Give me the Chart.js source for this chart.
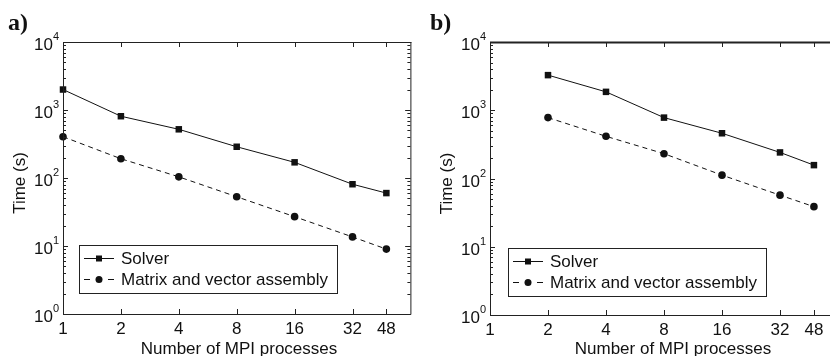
<!DOCTYPE html>
<html>
<head>
<meta charset="utf-8">
<script src="https://cdn.jsdelivr.net/npm/chart.js@4.4.1/dist/chart.umd.min.js"></script>
<style>
  html, body { margin: 0; padding: 0; background: #fff; overflow: hidden; width: 830px; height: 356px; }
  canvas { position: absolute; top: 0; }
</style>
</head>
<body>
<canvas id="chartA" width="415" height="356" style="left:0"></canvas>
<canvas id="chartB" width="430" height="356" style="left:415px"></canvas>
<script>
// data
const processesA = [1, 2, 4, 8, 16, 32, 48];
const solverA = [2000, 810, 520, 288, 170, 81, 60];
const assemblyA = [405, 192, 104, 53, 27, 13.6, 9];

const processesB = [2, 4, 8, 16, 32, 48];
const solverB = [3270, 1860, 780, 460, 241, 157];
const assemblyB = [780, 415, 231, 112, 57, 38.7];

const seriesLabels = ["Solver", "Matrix and vector assembly"];
const xTicks = [1, 2, 4, 8, 16, 32, 48];
const yTicks = [1, 10, 100, 1000, 10000];
const xTitle = "Number of MPI processes";
const yTitle = "Time (s)";

const FONT = "'Liberation Sans', Arial, Helvetica, sans-serif";
const INK = "#111";

function toPoints(xs, ys) {
  return xs.map((x, i) => ({ x: x, y: ys[i] }));
}

// axes box, inside ticks, superscript labels, titles and legend
const decorPlugin = {
  id: "decor",
  afterDraw(chart, args, opts) {
    const ctx = chart.ctx;
    const a = chart.chartArea;
    const xs = chart.scales.x;
    const ys = chart.scales.y;
    ctx.save();
    ctx.strokeStyle = "#222";
    ctx.lineWidth = 1;
    ctx.setLineDash([]);

    // box
    ctx.beginPath();
    ctx.moveTo(a.left + 0.5, a.top);
    ctx.lineTo(a.left + 0.5, a.bottom + 0.5);
    ctx.lineTo(a.right + 0.5, a.bottom + 0.5);
    ctx.lineTo(a.right + 0.5, a.top);
    ctx.stroke();
    ctx.lineWidth = opts.topWidth;
    ctx.beginPath();
    ctx.moveTo(a.left, a.top + 0.5);
    ctx.lineTo(a.right + 1, a.top + 0.5);
    ctx.stroke();
    ctx.lineWidth = 1;

    // x ticks top and bottom
    ctx.beginPath();
    xTicks.forEach(v => {
      const px = Math.round(xs.getPixelForValue(v)) + 0.5;
      ctx.moveTo(px, a.bottom);
      ctx.lineTo(px, a.bottom - 5);
      ctx.moveTo(px, a.top);
      ctx.lineTo(px, a.top + 5);
    });
    // y ticks major + minor, both sides
    for (let k = 0; k < 4; k++) {
      for (let m = 1; m <= 10; m++) {
        const v = m * Math.pow(10, k);
        const py = Math.round(ys.getPixelForValue(v)) + 0.5;
        const len = (m === 1 || m === 10) ? 5 : 3;
        ctx.moveTo(a.left, py);
        ctx.lineTo(a.left + len, py);
        ctx.moveTo(a.right, py);
        ctx.lineTo(a.right - len, py);
      }
    }
    ctx.stroke();

    // y tick labels 10^n
    ctx.fillStyle = INK;
    yTicks.forEach(v => {
      const py = ys.getPixelForValue(v);
      const exp = String(Math.round(Math.log10(v)));
      ctx.font = "17px " + FONT;
      ctx.textAlign = "right";
      ctx.textBaseline = "alphabetic";
      ctx.fillText("10", a.left - 10, py + 8);
      ctx.font = "11px " + FONT;
      ctx.textAlign = "left";
      ctx.fillText(exp, a.left - 10, py - 2);
    });

    // axis titles
    ctx.font = "17px " + FONT;
    ctx.textAlign = "center";
    ctx.textBaseline = "middle";
    ctx.fillText(xTitle, a.left + opts.titleDx, 349);
    ctx.save();
    ctx.translate(a.left - 43, (a.top + a.bottom) / 2 + 5);
    ctx.rotate(-Math.PI / 2);
    ctx.fillText(yTitle, 0, 0);
    ctx.restore();

    // panel letter
    ctx.font = "bold 24px 'Liberation Serif', 'Times New Roman', serif";
    ctx.textAlign = "left";
    ctx.textBaseline = "alphabetic";
    ctx.fillText(opts.letter, opts.letterX, 30);

    // legend
    const lx = a.left + opts.legendDx;
    const ly = a.bottom - opts.legendDy;
    ctx.fillStyle = "#fff";
    ctx.fillRect(lx, ly, 258, 48);
    ctx.strokeStyle = "#222";
    ctx.strokeRect(lx + 0.5, ly + 0.5, 258, 48);
    chart.data.datasets.forEach((ds, i) => {
      const cy = ly + 13 + i * 21;
      ctx.strokeStyle = ds.borderColor;
      ctx.lineWidth = 1;
      ctx.beginPath();
      if (ds.borderDash && ds.borderDash.length) {
        ctx.moveTo(lx + 5, cy + 0.5);
        ctx.lineTo(lx + 11, cy + 0.5);
        ctx.moveTo(lx + 29, cy + 0.5);
        ctx.lineTo(lx + 35, cy + 0.5);
      } else {
        ctx.moveTo(lx + 5, cy + 0.5);
        ctx.lineTo(lx + 35, cy + 0.5);
      }
      ctx.stroke();
      ctx.fillStyle = ds.pointBackgroundColor;
      const mx = lx + 20;
      if (ds.pointStyle === "rect") {
        ctx.fillRect(mx - 3, cy - 3 + 0.5, 6, 6);
      } else {
        ctx.beginPath();
        ctx.arc(mx, cy + 0.5, 3.5, 0, Math.PI * 2);
        ctx.fill();
      }
      ctx.fillStyle = INK;
      ctx.font = "17px " + FONT;
      ctx.textAlign = "left";
      ctx.textBaseline = "middle";
      ctx.fillText(ds.label, lx + 42, cy + 1);
    });
    ctx.restore();
  }
};

function makeChart(id, xs, solver, assembly, geo) {
  return new Chart(document.getElementById(id), {
    type: "scatter",
    data: {
      datasets: [
        {
          label: seriesLabels[0],
          data: toPoints(xs, solver),
          showLine: true,
          borderColor: "#111",
          borderWidth: 1,
          pointStyle: "rect",
          pointRadius: 4.6,
          pointBackgroundColor: "#111",
          pointBorderWidth: 0,
          clip: false,
        },
        {
          label: seriesLabels[1],
          data: toPoints(xs, assembly),
          showLine: true,
          borderColor: "#111",
          borderWidth: 1,
          borderDash: [5, 4],
          pointStyle: "circle",
          pointRadius: 3.8,
          pointBackgroundColor: "#111",
          pointBorderWidth: 0,
          clip: false,
        },
      ],
    },
    options: {
      responsive: false,
      animation: false,
      devicePixelRatio: 1,
      layout: { padding: { left: 0, top: 42, right: geo.padRight, bottom: 0 } },
      plugins: {
        legend: { display: false },
        tooltip: { enabled: false },
        decor: geo.decor,
      },
      scales: {
        x: {
          type: "logarithmic",
          min: 1,
          max: 64,
          grid: { display: false, drawTicks: false },
          border: { display: false },
          afterBuildTicks: (scale) => {
            scale.ticks = xTicks.map(v => ({ value: v }));
          },
          afterFit: (scale) => { scale.height = geo.xHeight; },
          ticks: {
            autoSkip: false,
            maxRotation: 0,
            padding: 5,
            color: INK,
            font: { family: FONT, size: 17 },
            callback: (v) => String(v),
          },
        },
        y: {
          type: "logarithmic",
          min: 1,
          max: 10000,
          grid: { display: false, drawTicks: false },
          border: { display: false },
          ticks: { display: false },
          afterFit: (scale) => { scale.width = geo.yWidth; },
        },
      },
    },
    plugins: [decorPlugin],
  });
}

document.addEventListener("DOMContentLoaded", function () {
  makeChart("chartA", processesA, solverA, assemblyA, {
    padRight: 4, xHeight: 42, yWidth: 63,
    decor: { letter: "a)", letterX: 8, titleDx: 176, topWidth: 1, legendDx: 16, legendDy: 69 },
  });
  makeChart("chartB", processesB, solverB, assemblyB, {
    padRight: 7, xHeight: 41, yWidth: 75,
    decor: { letter: "b)", letterX: 15, titleDx: 183, topWidth: 2, legendDx: 18, legendDy: 67 },
  });
});
</script>
</body>
</html>
